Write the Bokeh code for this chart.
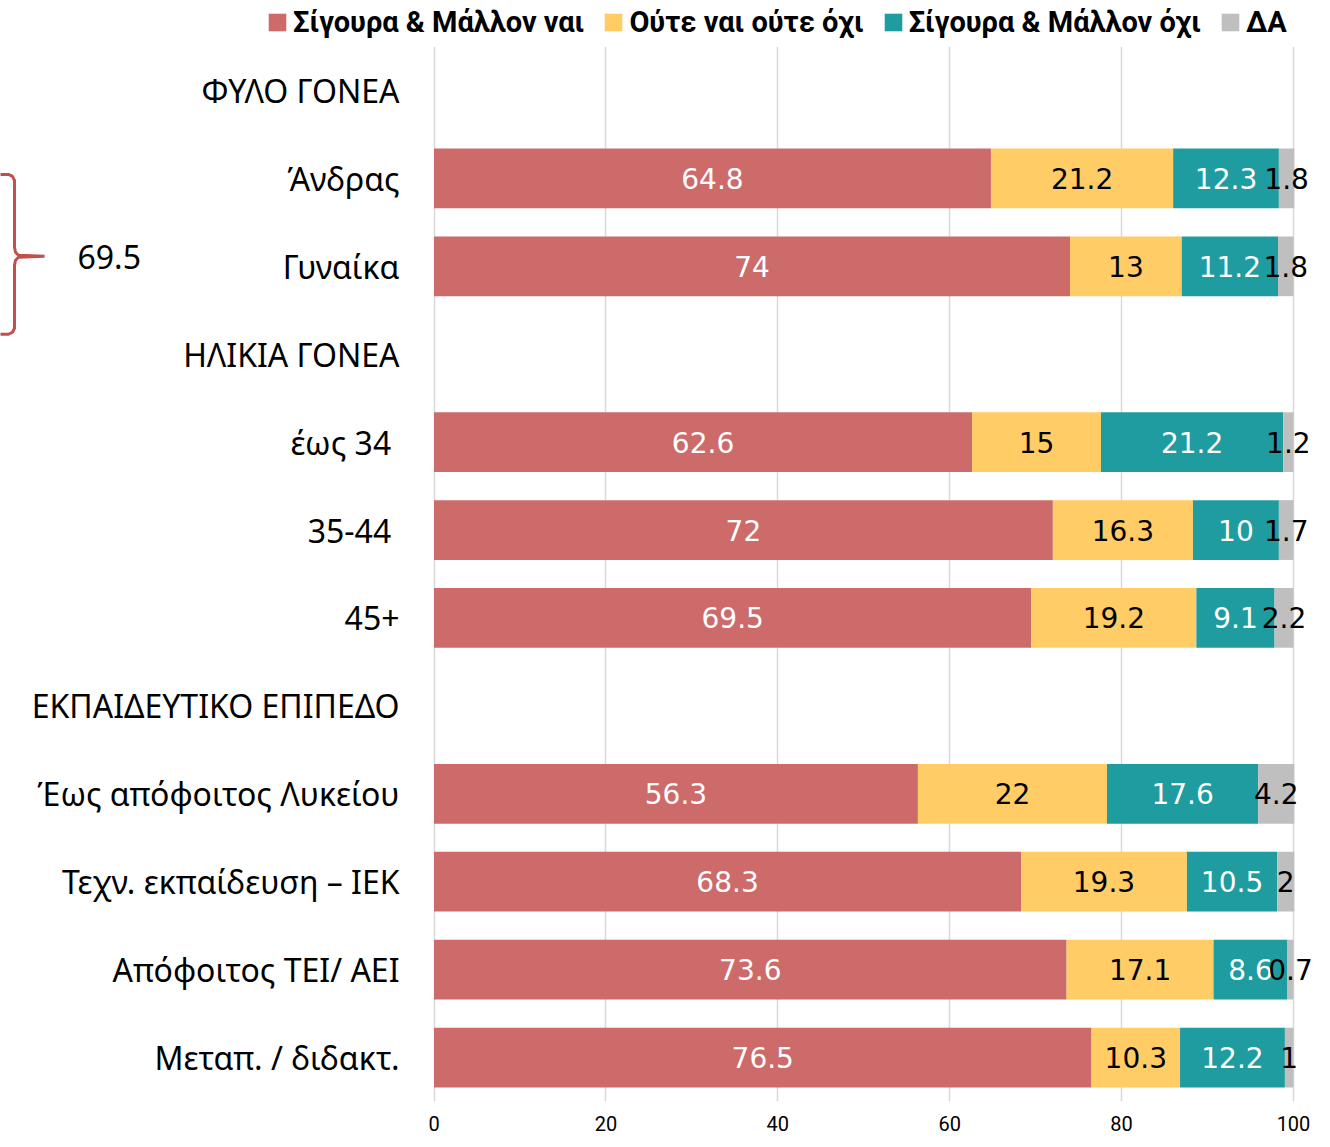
from bokeh.plotting import figure
from bokeh.layouts import column
from bokeh.models import ColumnDataSource, FactorRange, Range1d, FixedTicker, Legend, LegendItem
from bokeh.core.properties import value
from bokeh.embed import file_html
from bokeh.resources import INLINE
import numpy as np

# ---------------- data ----------------
categories = ["ΦΥΛΟ ΓΟΝΕΑ", "Άνδρας", "Γυναίκα", "ΗΛΙΚΙΑ ΓΟΝΕΑ", "έως 34 ", "35-44 ", "45+",
              "ΕΚΠΑΙΔΕΥΤΙΚΟ ΕΠΙΠΕΔΟ", "Έως απόφοιτος Λυκείου", "Τεχν. εκπαίδευση – ΙΕΚ",
              "Απόφοιτος ΤΕΙ/ ΑΕΙ", "Μεταπ. / διδακτ."]
bar_categories = ["Άνδρας", "Γυναίκα", "έως 34 ", "35-44 ", "45+", "Έως απόφοιτος Λυκείου",
                  "Τεχν. εκπαίδευση – ΙΕΚ", "Απόφοιτος ΤΕΙ/ ΑΕΙ", "Μεταπ. / διδακτ."]
yes_vals = [64.8, 74, 62.6, 72, 69.5, 56.3, 68.3, 73.6, 76.5]
neutral_vals = [21.2, 13, 15, 16.3, 19.2, 22, 19.3, 17.1, 10.3]
no_vals = [12.3, 11.2, 21.2, 10, 9.1, 17.6, 10.5, 8.6, 12.2]
dk_vals = [1.8, 1.8, 1.2, 1.7, 2.2, 4.2, 2, 0.7, 1]
series_names = ["Σίγουρα & Μάλλον ναι", "Ούτε ναι ούτε όχι", "Σίγουρα & Μάλλον όχι", "ΔΑ"]
x_ticks = [0, 20, 40, 60, 80, 100]
brace_value = "69.5"

# ---------------- styles ----------------
colors = ["#CC6B6A", "#FFCC66", "#1F9C9F", "#BFBFBF"]
label_colors = ["white", "black", "white", "black"]
FONT = "Noto Sans"
NUM_FONT = "DejaVu Sans"
W = 1322
LEG_H = 46
MAIN_H = 1139 - LEG_H
X0_PX, PX_PER_UNIT = 433.5, 8.595   # canvas x of value 0, pixels per unit
x_range = Range1d(-X0_PX / PX_PER_UNIT, (W - X0_PX) / PX_PER_UNIT)

def px2x(px):
    return (px - X0_PX) / PX_PER_UNIT

p = figure(width=W, height=MAIN_H, output_backend="svg", toolbar_location=None,
           x_range=x_range,
           y_range=FactorRange(factors=list(reversed(categories))),
           y_axis_location=None,
           min_border_left=0, min_border_right=0, min_border_top=0, min_border_bottom=38)
p.outline_line_color = None
p.background_fill_color = "white"
p.border_fill_color = "white"

fields = ["yes", "neutral", "no", "dk"]
data = dict(cat=bar_categories, yes=yes_vals, neutral=neutral_vals, no=no_vals, dk=dk_vals)
source = ColumnDataSource(data)

# grid
p.xgrid.ticker = FixedTicker(ticks=x_ticks)
p.xgrid.grid_line_color = "#D9D9D9"
p.xgrid.grid_line_width = 1.5
p.ygrid.visible = False

renderers = p.hbar_stack(fields, y="cat", height=0.68, color=colors, line_width=0, source=source)

# data labels
arr = np.array([yes_vals, neutral_vals, no_vals, dk_vals], dtype=float)
cum = np.cumsum(arr, axis=0)
mids = cum - arr / 2
for i, f in enumerate(fields):
    lab_src = ColumnDataSource(dict(cat=bar_categories, x=list(mids[i]),
                                    t=[("%g" % v) for v in arr[i]]))
    p.text(x="x", y="cat", text="t", source=lab_src, text_align="center", text_baseline="middle",
           text_color=label_colors[i], text_font=value(NUM_FONT), text_font_size="28px")

# category labels
cat_src = ColumnDataSource(dict(cat=categories))
p.text(x=px2x(399), y="cat", text="cat", source=cat_src, text_align="right", text_baseline="middle",
       text_color="black", text_font=value(FONT), text_font_size="32px")

# brace (pixel offsets relative to the "Άνδρας" row, 88 px per row)
ROW_PX = 88.0
brace_px = [(-2, 175), (8, 175), (12, 177), (14, 181), (14, 248), (15, 253), (18, 256), (44, 257),
            (18, 258), (15, 261), (14, 266), (14, 329), (12, 333), (8, 335), (-2, 335)]
bx = [px2x(a) for a, b in brace_px]
by = [["Άνδρας", (179 - b) / ROW_PX] for a, b in brace_px]
p.line(x=bx, y=by, line_color="#C0504D", line_width=3)
p.text(x=[px2x(77)], y=[["Άνδρας", (179 - 258) / ROW_PX]], text=[brace_value], text_align="left",
       text_baseline="middle", text_color="black", text_font=value(FONT), text_font_size="32px")

# x axis
xa = p.xaxis[0]
xa.ticker = FixedTicker(ticks=x_ticks)
xa.axis_line_color = None
xa.major_tick_line_color = None
xa.minor_tick_line_color = None
xa.major_tick_out = 0
xa.major_tick_in = 0
xa.major_label_standoff = 14
xa.major_label_text_font = "Roboto"
xa.major_label_text_font_size = "20px"
xa.major_label_text_color = "black"

# legend strip above the chart (swatch renderers sit outside the visible y range)
leg = figure(width=W, height=LEG_H, output_backend="svg", toolbar_location=None,
             x_range=x_range, y_range=Range1d(0, 1), x_axis_location=None, y_axis_location=None,
             min_border_left=0, min_border_right=0, min_border_top=0, min_border_bottom=0)
leg.outline_line_color = None
leg.xgrid.visible = False
leg.ygrid.visible = False
swatches = [leg.quad(left=[0], right=[1], top=[-2], bottom=[-3], fill_color=colors[i], line_color=None)
            for i in range(4)]
items = [LegendItem(label=series_names[i], renderers=[swatches[i]]) for i in range(4)]
legend = Legend(items=items, orientation="horizontal", location=(266, 7),
                label_text_font="Roboto", label_text_font_style="bold", label_text_font_size="29px",
                label_text_color="black", glyph_width=22, glyph_height=22, label_standoff=5,
                spacing=18, padding=0, margin=0, border_line_alpha=0, background_fill_alpha=0)
leg.add_layout(legend)

layout = column(leg, p, spacing=0)
open("out.html", "w").write(file_html(layout, INLINE))
